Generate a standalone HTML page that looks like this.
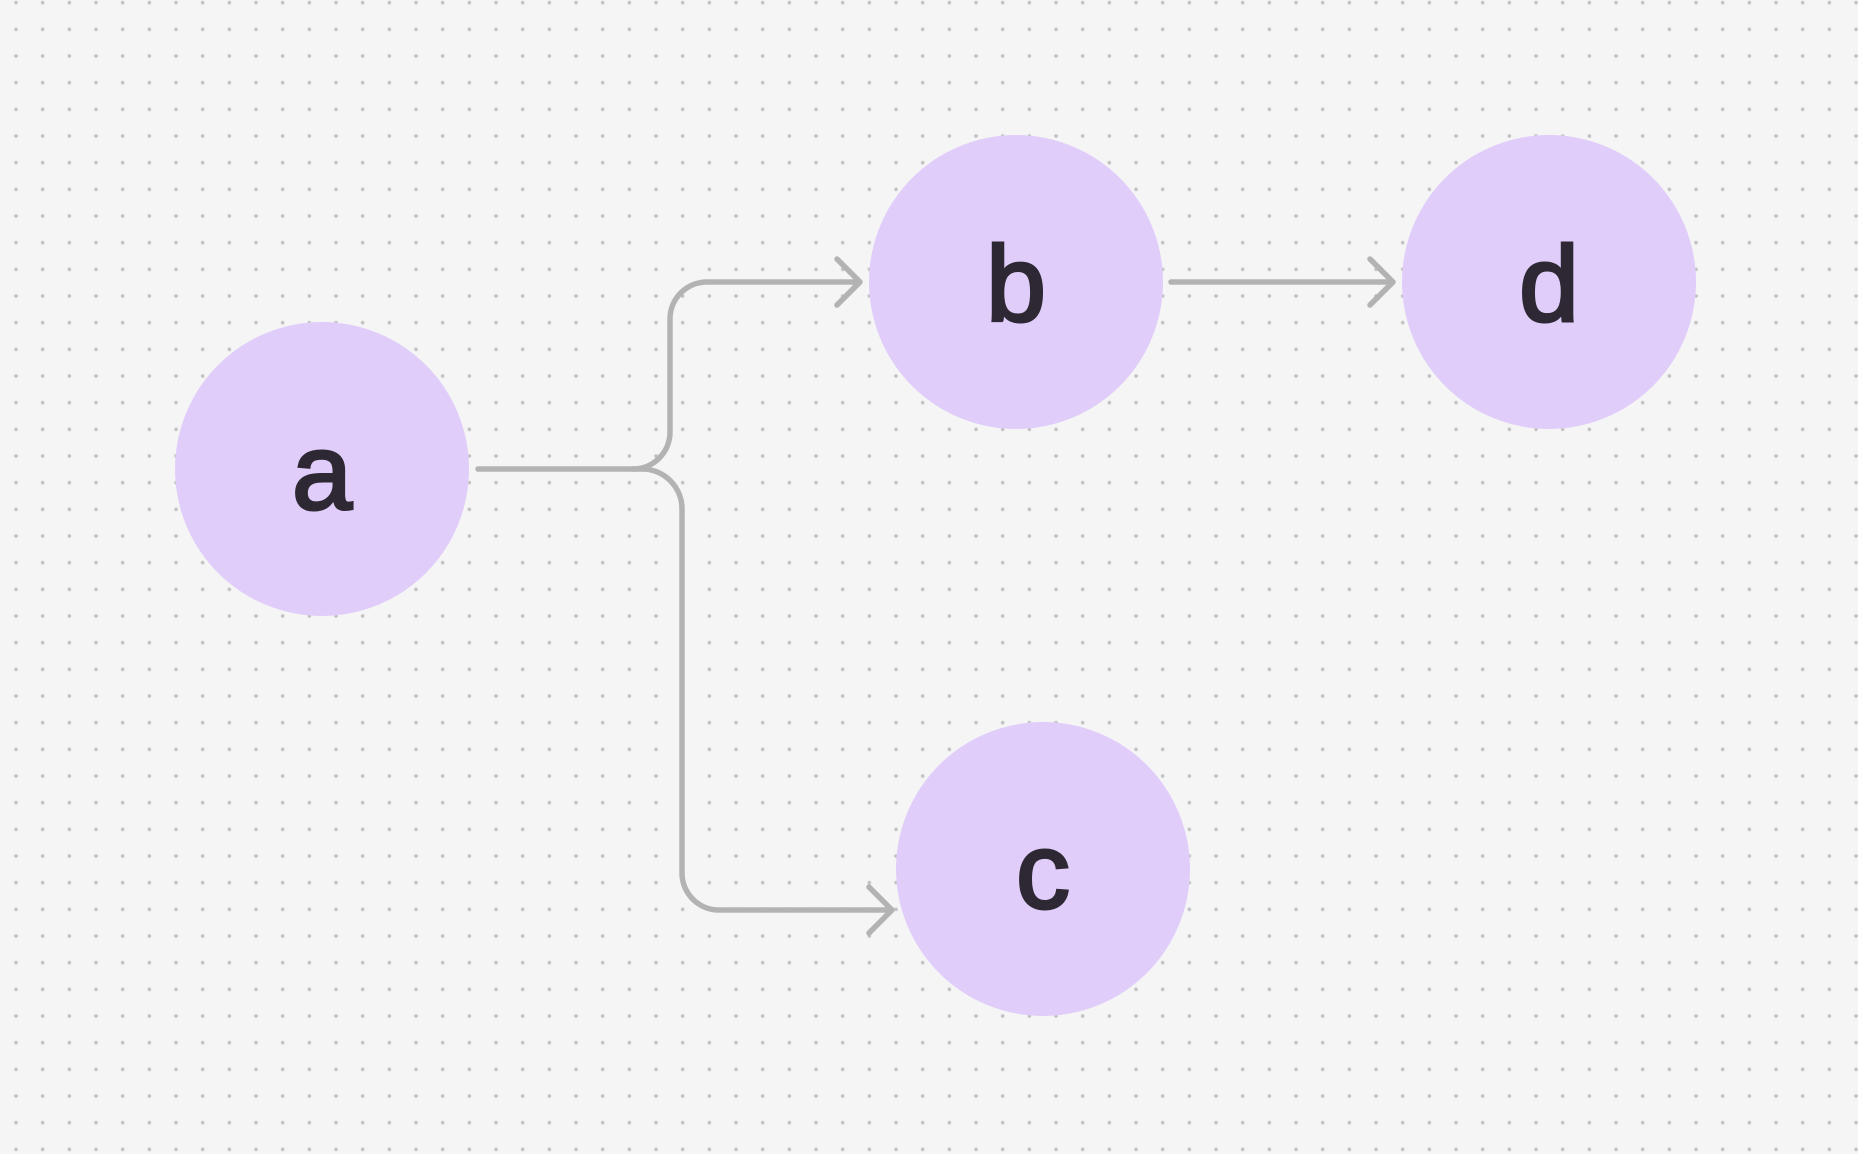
<!DOCTYPE html>
<html><head><meta charset="utf-8"><style>
html,body{margin:0;padding:0;}
body{width:1858px;height:1154px;overflow:hidden;background:#f5f5f5;}
svg{display:block;}
text{font-family:"Liberation Sans",sans-serif;font-weight:normal;fill:#2d2833;stroke:#2d2833;stroke-width:3;}
</style></head><body>
<svg width="1858" height="1154" viewBox="0 0 1858 1154" xmlns="http://www.w3.org/2000/svg">
<defs>
<pattern id="dots" x="16" y="2.67" width="26.667" height="26.667" patternUnits="userSpaceOnUse">
<circle cx="0" cy="0" r="1.8" fill="#c2c2c2"/>
<circle cx="26.667" cy="0" r="1.8" fill="#c2c2c2"/>
<circle cx="0" cy="26.667" r="1.8" fill="#c2c2c2"/>
<circle cx="26.667" cy="26.667" r="1.8" fill="#c2c2c2"/>
</pattern>
</defs>
<rect width="1858" height="1154" fill="url(#dots)"/>
<g fill="none" stroke="#b3b3b3" stroke-width="5.5" stroke-linecap="round" stroke-linejoin="round">
<path d="M478 469 H633 A37 37 0 0 0 670 432 V319 A37 37 0 0 1 707 282 H859"/>
<path d="M837 259 L860 282 L837 305"/>
<path d="M633 469 H642 A40 40 0 0 1 682 509 V873 A37 37 0 0 0 719 910 H890"/>
<path d="M869 887 L892 910 L869 933"/>
<path d="M1171 282 H1391"/>
<path d="M1370 259 L1393 282 L1370 305"/>
</g>
<g fill="#e0cdfa">
<circle cx="322" cy="469" r="147"/>
<circle cx="1016" cy="282" r="147"/>
<circle cx="1549" cy="282" r="147"/>
<circle cx="1043" cy="869" r="147"/>
</g>
<g font-size="108" text-anchor="middle">
<text x="322" y="509">a</text>
<text x="1016" y="321">b</text>
<text x="1549" y="321">d</text>
<text x="1043" y="908">c</text>
</g>
</svg>
</body></html>
